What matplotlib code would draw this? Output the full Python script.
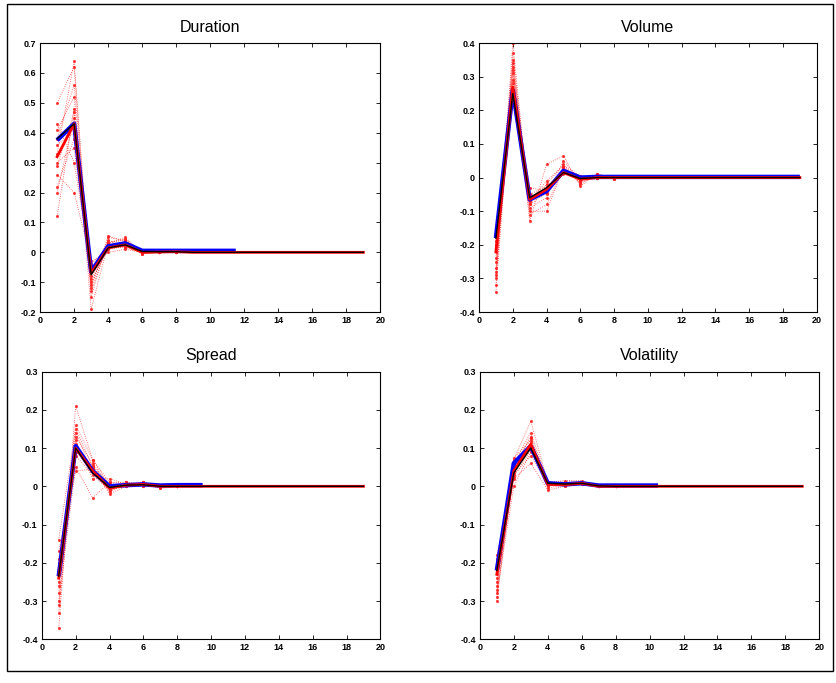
import matplotlib
matplotlib.use("Agg")
import matplotlib.pyplot as plt
from matplotlib.patches import Rectangle

plt.rcParams['font.family'] = ['Liberation Sans', 'DejaVu Sans']

steps = list(range(1, 20))
tail = [0.0] * 11

# point estimates over steps 1..19
dur_red = [0.32, 0.43, -0.07, 0.015, 0.025, 0.0, 0.001, 0.002] + tail
dur_black = [0.38, 0.43, -0.075, 0.015, 0.025, 0.003, 0.002, 0.002] + tail
dur_blue_x = [1, 2, 3, 4, 5, 6, 7, 8, 9, 10, 11, 11.5]
dur_blue = [0.375, 0.43, -0.065, 0.02, 0.03, 0.005, 0.005, 0.005, 0.005, 0.005, 0.005, 0.005]

vol_red = [-0.22, 0.27, -0.065, -0.035, 0.015, -0.005, 0.0, 0.0] + tail
vol_black = [-0.18, 0.25, -0.06, -0.03, 0.015, -0.003, 0.0, 0.0] + tail
vol_blue_x = steps
vol_blue = [-0.18, 0.26, -0.065, -0.04, 0.02, 0.0, 0.002, 0.002] + [0.002] * 11

spr_red = [-0.24, 0.10, 0.04, -0.005, 0.003, 0.005, 0.0, 0.0] + tail
spr_black = [-0.235, 0.10, 0.035, -0.003, 0.003, 0.004, 0.0, 0.0] + tail
spr_blue_x = [1, 2, 3, 4, 5, 6, 7, 8, 9, 9.5]
spr_blue = [-0.235, 0.105, 0.04, 0.0, 0.003, 0.005, 0.002, 0.003, 0.003, 0.003]

vlt_red = [-0.23, 0.04, 0.11, 0.005, 0.004, 0.008, 0.0, 0.0] + tail
vlt_black = [-0.22, 0.035, 0.10, 0.008, 0.006, 0.008, 0.001, 0.0] + tail
vlt_blue_x = [1, 2, 3, 4, 5, 6, 7, 8, 9, 10, 10.5]
vlt_blue = [-0.22, 0.06, 0.105, 0.008, 0.005, 0.008, 0.002, 0.002, 0.002, 0.002, 0.002]

# bootstrap draws, steps 1..8
dur_draws = [
    [0.50, 0.62, -0.15, 0.05, 0.04, 0.00, 0.0, 0.0],
    [0.12, 0.48, -0.19, 0.03, 0.05, -0.005, 0.002, 0.003],
    [0.30, 0.35, -0.10, 0.02, 0.02, 0.002, 0.0, 0.0],
    [0.43, 0.30, -0.05, 0.01, 0.03, 0.0, 0.0, 0.001],
    [0.20, 0.45, -0.12, 0.055, 0.035, -0.005, 0.0, 0.0],
    [0.38, 0.56, -0.08, 0.04, 0.02, 0.004, 0.001, 0.006],
    [0.26, 0.20, -0.03, 0.0, 0.01, 0.0, 0.0, 0.0],
    [0.33, 0.64, -0.13, 0.03, 0.045, 0.0, 0.0, 0.0],
    [0.36, 0.40, -0.06, 0.025, 0.03, 0.003, 0.0, 0.0],
    [0.29, 0.47, -0.09, 0.01, 0.02, -0.003, 0.0, 0.0],
    [0.41, 0.52, -0.11, 0.035, 0.04, 0.002, 0.0, 0.0],
    [0.22, 0.38, -0.04, 0.02, 0.015, 0.0, 0.0, 0.0],
]
vol_draws = [
    [-0.34, 0.33, -0.13, 0.04, 0.065, -0.025, 0.01, 0.0],
    [-0.30, 0.40, -0.10, -0.10, 0.03, -0.01, 0.005, -0.005],
    [-0.25, 0.22, -0.05, -0.05, 0.02, 0.005, 0.0, 0.0],
    [-0.20, 0.35, -0.08, -0.02, 0.04, -0.02, 0.01, 0.0],
    [-0.22, 0.29, -0.03, -0.04, 0.01, 0.0, 0.0, 0.0],
    [-0.28, 0.25, -0.11, -0.08, 0.025, -0.015, 0.005, 0.0],
    [-0.16, 0.31, -0.07, -0.01, 0.035, 0.005, 0.0, 0.0],
    [-0.32, 0.37, -0.09, -0.06, 0.05, -0.01, 0.01, -0.003],
    [-0.24, 0.28, -0.06, -0.03, 0.02, -0.005, 0.0, 0.0],
    [-0.27, 0.32, -0.08, -0.045, 0.03, -0.01, 0.005, 0.0],
    [-0.19, 0.26, -0.05, -0.025, 0.015, 0.0, 0.0, 0.0],
    [-0.29, 0.34, -0.07, -0.035, 0.025, -0.008, 0.0, 0.0],
]
spr_draws = [
    [-0.37, 0.21, 0.07, 0.01, 0.01, 0.01, -0.005, 0.0],
    [-0.14, 0.15, 0.05, -0.02, 0.0, 0.005, 0.0, 0.0],
    [-0.30, 0.05, -0.03, 0.01, 0.005, 0.008, 0.0, 0.0],
    [-0.25, 0.13, 0.06, 0.0, 0.01, 0.0, 0.0, 0.0],
    [-0.20, 0.08, 0.03, -0.01, 0.0, 0.01, 0.0, 0.0],
    [-0.33, 0.12, 0.02, 0.02, 0.005, 0.005, -0.005, 0.0],
    [-0.17, 0.04, 0.045, -0.015, 0.01, 0.0, 0.0, 0.0],
    [-0.28, 0.16, 0.07, 0.0, 0.005, 0.01, 0.0, 0.0],
    [-0.22, 0.11, 0.04, -0.005, 0.005, 0.004, 0.0, 0.0],
    [-0.26, 0.09, 0.05, 0.005, 0.0, 0.006, 0.0, 0.0],
    [-0.31, 0.14, 0.035, -0.01, 0.008, 0.003, 0.0, 0.0],
    [-0.19, 0.10, 0.055, 0.0, 0.003, 0.007, 0.0, 0.0],
]
vlt_draws = [
    [-0.30, 0.07, 0.17, 0.01, 0.015, 0.015, 0.0, 0.0],
    [-0.18, 0.02, 0.06, -0.01, 0.0, 0.005, 0.0, 0.0],
    [-0.26, 0.05, 0.13, 0.005, 0.01, 0.01, 0.0, 0.0],
    [-0.28, 0.00, 0.09, 0.01, 0.005, 0.005, 0.0, 0.0],
    [-0.21, 0.075, 0.12, 0.0, 0.01, 0.012, 0.002, 0.0],
    [-0.24, 0.03, 0.08, 0.008, 0.0, 0.008, 0.0, 0.0],
    [-0.19, 0.06, 0.14, 0.012, 0.012, 0.01, 0.0, 0.0],
    [-0.29, 0.04, 0.10, -0.005, 0.005, 0.006, 0.0, 0.0],
    [-0.23, 0.045, 0.115, 0.006, 0.004, 0.009, 0.0, 0.0],
    [-0.25, 0.035, 0.105, 0.003, 0.008, 0.007, 0.0, 0.0],
    [-0.22, 0.055, 0.125, 0.009, 0.006, 0.011, 0.0, 0.0],
    [-0.27, 0.025, 0.095, 0.004, 0.003, 0.006, 0.0, 0.0],
]

panels = [
    ("Duration", [0.048, 0.543, 0.407, 0.394], (-0.2, 0.7), dur_draws, dur_blue_x, dur_blue, dur_red, dur_black),
    ("Volume", [0.573, 0.543, 0.404, 0.394], (-0.4, 0.4), vol_draws, vol_blue_x, vol_blue, vol_red, vol_black),
    ("Spread", [0.050, 0.064, 0.405, 0.392], (-0.4, 0.3), spr_draws, spr_blue_x, spr_blue, spr_red, spr_black),
    ("Volatility", [0.574, 0.064, 0.406, 0.392], (-0.4, 0.3), vlt_draws, vlt_blue_x, vlt_blue, vlt_red, vlt_black),
]

fig = plt.figure(figsize=(8.36, 6.83), dpi=100)

for title, rect, ylim, draws, bx, by, red, black in panels:
    ax = fig.add_axes(rect)
    for d in draws:
        ax.plot(steps[:len(d)], d, color='#ff2020', ls=':', lw=0.6,
                marker='.', ms=2.5, alpha=0.8)
    ax.plot(bx, by, color='#0000ff', lw=3.2, solid_capstyle='butt')
    ax.plot(steps, red, color='#ff0000', lw=2.0)
    ax.plot(steps, black, color='black', lw=1.0)

    ax.set_xlim(0, 20)
    ax.set_ylim(*ylim)
    ax.set_xticks(range(0, 21, 2))
    lo, hi = ylim
    n = int(round((hi - lo) / 0.1))
    yt = [round(lo + 0.1 * i, 1) for i in range(n + 1)]
    ax.set_yticks(yt)
    ax.set_yticklabels(["0" if v == 0 else f"{v:g}" for v in yt])
    ax.tick_params(direction='in', top=True, right=True, labelsize=6.5,
                   length=3, width=0.6, pad=3)
    for lab in ax.get_xticklabels() + ax.get_yticklabels():
        lab.set_fontweight('bold')
    for s in ax.spines.values():
        s.set_linewidth(0.8)
    ax.set_title(title, fontsize=11.5, pad=8)

# outer frame around the whole figure
fig.patches.append(Rectangle((0.0084, 0.0176), 0.988, 0.9764, transform=fig.transFigure,
                             fill=False, edgecolor='black', lw=1.0))

fig.savefig("out.png", dpi=100)
